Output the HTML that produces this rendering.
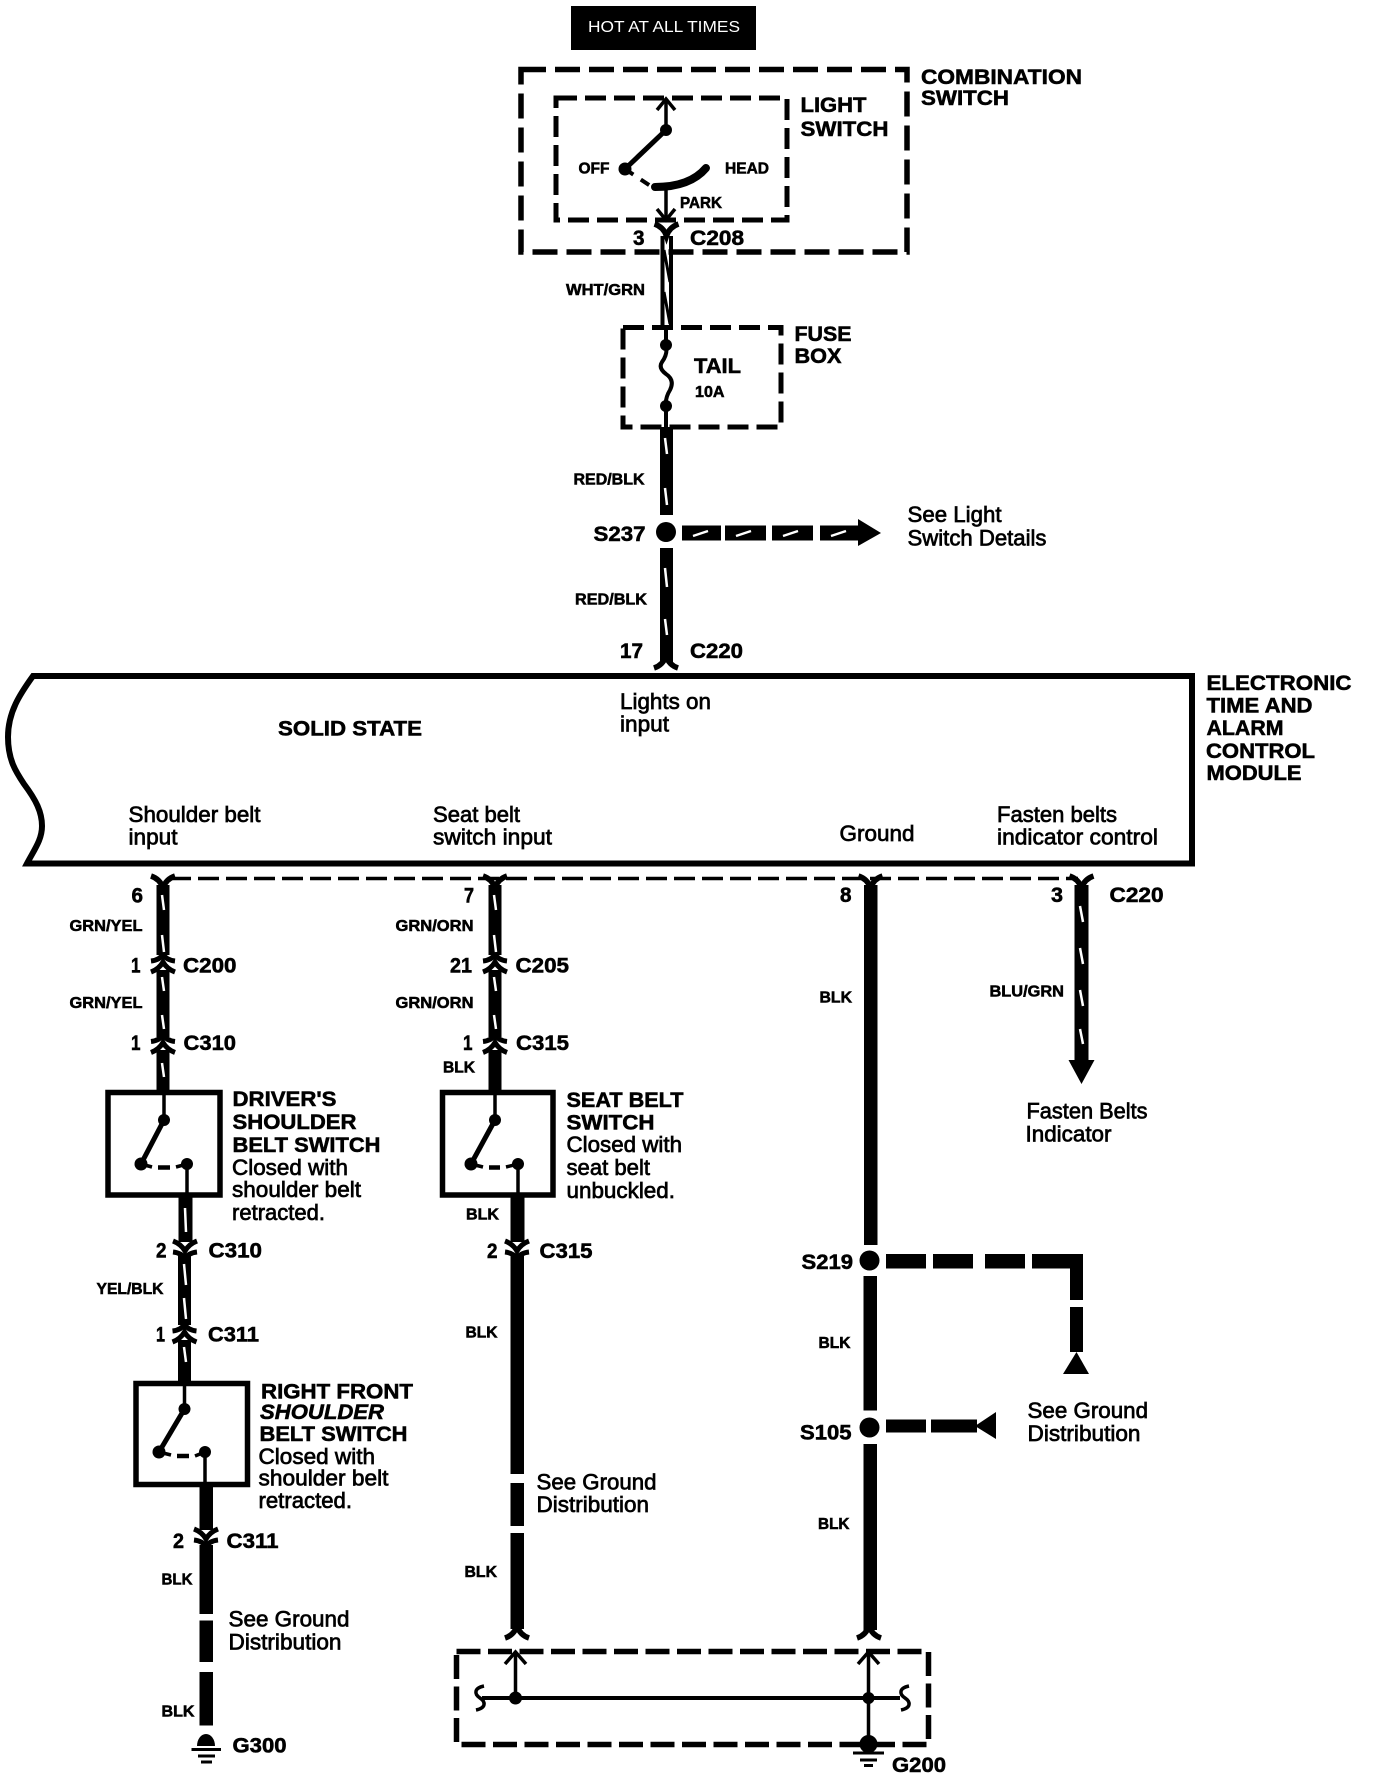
<!DOCTYPE html>
<html><head><meta charset="utf-8"><style>
html,body{margin:0;padding:0;background:#fff}
svg{display:block}
text{font-family:"Liberation Sans",sans-serif;fill:#000}
.b{font-weight:700;stroke:#000;stroke-width:.55}
.r{font-weight:400;stroke:#000;stroke-width:.7}
.l{font-size:21px}.m{font-size:20px}.s{font-size:16px}.t{font-size:22px}
</style></head><body>
<svg width="1376" height="1780" viewBox="0 0 1376 1780" xmlns="http://www.w3.org/2000/svg">
<defs>
<g id="up" fill="none" stroke="#000" stroke-width="5"><path d="M-12 -2Q-3 -3 0 -9Q3 -3 12 -2"/><path d="M-12 9Q-4 6 0 -1Q4 6 12 9"/></g>
<g id="dn" fill="none" stroke="#000" stroke-width="5"><path d="M-12 2Q-3 3 0 9Q3 3 12 2"/><path d="M-12 -9Q-4 -6 0 1Q4 -6 12 -9"/></g>
<path id="y" fill="none" stroke="#000" stroke-width="5.5" d="M-12 -5Q-3 -2 0 7Q3 -2 12 -5"/>
<path id="fl" fill="none" stroke="#000" stroke-width="5.5" d="M-12 5Q-3 2 0 -7Q3 2 12 5"/>
</defs>
<rect width="1376" height="1780" fill="#fff"/>

<!-- HOT -->
<rect x="571" y="6" width="185" height="44" fill="#000"/>
<text x="588" y="32" font-size="16" textLength="152" lengthAdjust="spacingAndGlyphs" style="fill:#fff">HOT AT ALL TIMES</text>

<!-- Combination / light switch -->
<rect x="521" y="69.5" width="386" height="182.5" fill="none" stroke="#000" stroke-width="5.5" stroke-dasharray="25 9"/>
<rect x="556" y="98" width="231" height="122" fill="none" stroke="#000" stroke-width="5" stroke-dasharray="21 8"/>
<g fill="none" stroke="#000">
<path d="M666 130V99" stroke-width="3.5"/>
<path d="M657 110L666 99L675 110" stroke-width="3.5"/>
<path d="M666 130L625 169" stroke-width="5"/>
<path d="M625 169L655 189" stroke-width="4" stroke-dasharray="10 9"/>
<path d="M655 187Q690 187 706 168" stroke-width="8" stroke-linecap="round"/>
<path d="M666 190V220" stroke-width="3.5"/>
<path d="M657 209L666 220L675 209" stroke-width="3.5"/>
</g>
<circle cx="666" cy="130" r="6"/><circle cx="625" cy="169" r="6.5"/>
<use href="#y" x="666.5" y="229"/>
<!-- WHT/GRN -->
<path d="M662.5 236V327M671 236V327" stroke="#000" stroke-width="4" fill="none"/>
<path d="M664 250L670 282M664 292L670 324" stroke="#000" stroke-width="3" fill="none"/>

<!-- Fuse box -->
<rect x="623" y="327.5" width="158" height="99.5" fill="none" stroke="#000" stroke-width="5" stroke-dasharray="21 8"/>
<g fill="none" stroke="#000" stroke-width="4">
<path d="M666 327V345M666 406V427"/>
<path d="M666 345Q668 354 662 362Q658 368 666 374Q675 380 670 390Q665 398 666 406"/>
</g>
<circle cx="666" cy="345" r="6"/><circle cx="666" cy="406" r="6"/>

<!-- RED/BLK -->
<rect x="660" y="427" width="13" height="88"/>
<circle cx="666" cy="532" r="10"/>
<rect x="660" y="548" width="13" height="114"/>
<use href="#fl" x="666" y="663"/>
<path d="M665 438L667 454M665 488L667 505M665 568L667 587M665 619L667 635" stroke="#fff" stroke-width="2.5" fill="none"/>
<!-- S237 arrow -->
<rect x="682" y="525.5" width="39" height="15"/><rect x="725" y="525.5" width="41" height="15"/><rect x="772" y="525.5" width="41" height="15"/><rect x="820" y="525.5" width="40" height="15"/>
<path d="M858 519L881 533L858 546Z"/>
<path d="M693 536L708 531M736 536L751 531M783 536L798 531M831 536L846 531" stroke="#fff" stroke-width="2.5" fill="none"/>

<!-- Module -->
<path d="M1192 676H33C20 694 8 712 8 737C8 760 16 772 24 784C36 800 42 812 42 826C42 840 34 850 27 863.5H1192Z" fill="none" stroke="#000" stroke-width="6"/>

<!-- dashed connector line -->
<path d="M170 878.5H1078" stroke="#000" stroke-width="3.5" stroke-dasharray="21 7" fill="none"/>

<!-- Column 1 -->
<use href="#y" x="163" y="881"/>
<rect x="156.5" y="885" width="13" height="70"/><rect x="156.5" y="970" width="13" height="67"/><rect x="156.5" y="1050" width="13" height="42"/>
<use href="#up" x="163" y="963"/><use href="#up" x="163" y="1043.5"/>
<path d="M162 895L164 910M162 935L164 952M162 977L164 991M162 1015L164 1029M162 1063L164 1077" stroke="#fff" stroke-width="2.5" fill="none"/>
<rect x="108" y="1092.5" width="112" height="102.5" fill="none" stroke="#000" stroke-width="5.5"/>
<g fill="none" stroke="#000">
<path d="M164 1094V1120" stroke-width="3.5"/><path d="M164 1120L141 1164" stroke-width="5"/>
<path d="M141 1164L152 1167" stroke-width="3.5"/><path d="M158 1167.5H170" stroke-width="4.5"/><path d="M176 1167L187 1164V1195" stroke-width="3.5"/>
</g>
<circle cx="164" cy="1120" r="6"/><circle cx="141" cy="1164" r="6.5"/><circle cx="187" cy="1164" r="6"/>
<rect x="178.5" y="1195" width="14" height="47"/>
<path d="M185 1208L186 1232" stroke="#fff" stroke-width="2.5" fill="none"/>
<use href="#dn" x="185" y="1250"/>
<rect x="178" y="1255" width="13" height="70"/>
<path d="M184 1264L186 1285M184 1298L186 1319" stroke="#fff" stroke-width="2.5" fill="none"/>
<use href="#up" x="184.5" y="1333"/>
<rect x="178" y="1340" width="13" height="43"/>
<path d="M184 1347L186 1362" stroke="#fff" stroke-width="2.5" fill="none"/>
<rect x="136" y="1383.5" width="111.5" height="101" fill="none" stroke="#000" stroke-width="5.5"/>
<g fill="none" stroke="#000">
<path d="M184.5 1385V1409" stroke-width="3.5"/><path d="M184.5 1409L159 1452" stroke-width="5"/>
<path d="M159 1452L171 1455" stroke-width="3.5"/><path d="M177 1456H189" stroke-width="4.5"/><path d="M195 1456L205 1452V1484" stroke-width="3.5"/>
</g>
<circle cx="184.5" cy="1409" r="6"/><circle cx="159" cy="1452" r="6.5"/><circle cx="205" cy="1452" r="6"/>
<rect x="199.5" y="1484" width="13.5" height="46"/>
<use href="#dn" x="206" y="1538"/>
<rect x="199.5" y="1545" width="13.5" height="69"/><rect x="199.5" y="1620.5" width="13.5" height="41.5"/><rect x="199.5" y="1672" width="13.5" height="53.5"/>
<path d="M197 1746A9 12 0 0 1 215 1746Z"/>
<path d="M191.5 1749.5H221M198 1756H215M201 1762H212" stroke="#000" stroke-width="3" fill="none"/>

<!-- Column 2 -->
<use href="#y" x="495" y="881"/>
<rect x="488.5" y="885" width="13" height="70"/><rect x="488.5" y="970" width="13" height="67"/><rect x="488.5" y="1050" width="13" height="42"/>
<use href="#up" x="495" y="963"/><use href="#up" x="495" y="1043.5"/>
<path d="M494 895L496 910M494 935L496 952M494 977L496 991M494 1015L496 1029" stroke="#fff" stroke-width="2.5" fill="none"/>
<rect x="442.5" y="1092.5" width="110.5" height="102.5" fill="none" stroke="#000" stroke-width="5.5"/>
<g fill="none" stroke="#000">
<path d="M495 1094V1120" stroke-width="3.5"/><path d="M495 1120L471 1164" stroke-width="5"/>
<path d="M471 1164L483 1167" stroke-width="3.5"/><path d="M489 1167.5H500" stroke-width="4.5"/><path d="M506 1167L518 1164V1195" stroke-width="3.5"/>
</g>
<circle cx="495" cy="1120" r="6"/><circle cx="471" cy="1164" r="6.5"/><circle cx="518" cy="1164" r="6"/>
<rect x="510.5" y="1195" width="14" height="47"/>
<use href="#dn" x="517" y="1250"/>
<rect x="510.5" y="1255" width="13.5" height="219"/><rect x="510.5" y="1483" width="13.5" height="43"/><rect x="510.5" y="1533" width="13.5" height="96"/>
<use href="#fl" x="517" y="1633"/>

<!-- Column 3 -->
<use href="#y" x="870.5" y="881"/>
<rect x="864" y="885" width="13.5" height="360"/>
<circle cx="869.5" cy="1260.5" r="10"/>
<rect x="863.5" y="1276" width="13.5" height="134.5"/>
<circle cx="869.5" cy="1427.5" r="10"/>
<rect x="863.5" y="1444" width="13.5" height="186"/>
<use href="#fl" x="869" y="1633"/>
<!-- S219 -->
<rect x="886" y="1254" width="40" height="14.5"/><rect x="933" y="1254" width="40" height="14.5"/><rect x="985" y="1254" width="40" height="14.5"/>
<path d="M1032 1254H1083V1300H1070V1268.5H1032Z"/>
<rect x="1070" y="1307" width="13" height="45"/>
<path d="M1076.5 1352L1089 1374H1063Z"/>
<!-- S105 -->
<rect x="886" y="1419.5" width="40" height="13"/><rect x="931" y="1419.5" width="46" height="13"/>
<path d="M975 1426L996 1412V1439Z"/>

<!-- Column 4 -->
<use href="#y" x="1081.5" y="881"/>
<rect x="1074.5" y="885" width="14" height="176"/>
<path d="M1068.5 1060H1094.5L1081.5 1084Z"/>
<path d="M1080 906L1083 922M1080 948L1083 964M1080 990L1083 1006M1080 1029L1083 1044" stroke="#fff" stroke-width="2.5" fill="none"/>

<!-- G200 box -->
<rect x="456.5" y="1651.5" width="472" height="93" fill="none" stroke="#000" stroke-width="5.5" stroke-dasharray="24 7.5"/>
<g fill="none" stroke="#000">
<path d="M515.5 1652V1698M868.5 1652V1745" stroke-width="3.5"/>
<path d="M505 1664L515.5 1652L526 1664M858 1664L868.5 1652L879 1664" stroke-width="3.5"/>
<path d="M482 1698H900" stroke-width="4"/>
<path d="M484 1686C474 1688 474 1694 480 1698C486 1702 486 1708 476 1710" stroke-width="3.5"/>
<path d="M909 1686C899 1688 899 1694 905 1698C911 1702 911 1708 901 1710" stroke-width="3.5"/>
<path d="M853 1753H884M860 1760H877M864 1765.5H873" stroke-width="3"/>
</g>
<circle cx="515.5" cy="1698" r="6.5"/><circle cx="868.5" cy="1698" r="6"/><circle cx="868.5" cy="1744" r="9"/>

<!-- Text -->
<text class="b l" x="921" y="84" textLength="161" lengthAdjust="spacingAndGlyphs">COMBINATION</text>
<text class="b l" x="921" y="105" textLength="88" lengthAdjust="spacingAndGlyphs">SWITCH</text>
<text class="b l" x="800.5" y="112" textLength="66" lengthAdjust="spacingAndGlyphs">LIGHT</text>
<text class="b l" x="800.5" y="136" textLength="88" lengthAdjust="spacingAndGlyphs">SWITCH</text>
<text class="b s" x="578.5" y="173.5" textLength="31" lengthAdjust="spacingAndGlyphs">OFF</text>
<text class="b s" x="725" y="173.5" textLength="44" lengthAdjust="spacingAndGlyphs">HEAD</text>
<text class="b s" x="680" y="208" textLength="42" lengthAdjust="spacingAndGlyphs">PARK</text>
<text class="b l" x="633" y="245" textLength="11.5" lengthAdjust="spacingAndGlyphs">3</text>
<text class="b l" x="690" y="245" textLength="54" lengthAdjust="spacingAndGlyphs">C208</text>
<text class="b s" x="566" y="295" textLength="79" lengthAdjust="spacingAndGlyphs">WHT/GRN</text>
<text class="b l" x="794.5" y="341" textLength="57" lengthAdjust="spacingAndGlyphs">FUSE</text>
<text class="b l" x="794.5" y="363" textLength="47" lengthAdjust="spacingAndGlyphs">BOX</text>
<text class="b l" x="694" y="373" textLength="47" lengthAdjust="spacingAndGlyphs">TAIL</text>
<text class="b s" x="695" y="397" textLength="29.5" lengthAdjust="spacingAndGlyphs">10A</text>
<text class="b s" x="573.5" y="484.5" textLength="71" lengthAdjust="spacingAndGlyphs">RED/BLK</text>
<text class="b l" x="593.5" y="541" textLength="52" lengthAdjust="spacingAndGlyphs">S237</text>
<text class="r t" x="907.5" y="522" textLength="94" lengthAdjust="spacingAndGlyphs">See Light</text>
<text class="r t" x="907.5" y="545.5" textLength="139" lengthAdjust="spacingAndGlyphs">Switch Details</text>
<text class="b s" x="575" y="604.5" textLength="72" lengthAdjust="spacingAndGlyphs">RED/BLK</text>
<text class="b l" x="620" y="658" textLength="23" lengthAdjust="spacingAndGlyphs">17</text>
<text class="b l" x="690" y="658" textLength="53" lengthAdjust="spacingAndGlyphs">C220</text>

<text class="b l" x="278" y="735.5" textLength="144" lengthAdjust="spacingAndGlyphs">SOLID STATE</text>
<text class="r t" x="620" y="709" textLength="91" lengthAdjust="spacingAndGlyphs">Lights on</text>
<text class="r t" x="620" y="731.5" textLength="49" lengthAdjust="spacingAndGlyphs">input</text>
<text class="r t" x="128.5" y="822" textLength="132" lengthAdjust="spacingAndGlyphs">Shoulder belt</text>
<text class="r t" x="128.5" y="844.5" textLength="49" lengthAdjust="spacingAndGlyphs">input</text>
<text class="r t" x="433" y="822" textLength="87" lengthAdjust="spacingAndGlyphs">Seat belt</text>
<text class="r t" x="433" y="844.5" textLength="119" lengthAdjust="spacingAndGlyphs">switch input</text>
<text class="r t" x="839.5" y="841" textLength="75" lengthAdjust="spacingAndGlyphs">Ground</text>
<text class="r t" x="997" y="822" textLength="120" lengthAdjust="spacingAndGlyphs">Fasten belts</text>
<text class="r t" x="997" y="844.5" textLength="161" lengthAdjust="spacingAndGlyphs">indicator control</text>
<text class="b l" x="1206.5" y="690" textLength="145" lengthAdjust="spacingAndGlyphs">ELECTRONIC</text>
<text class="b l" x="1206.5" y="712.5" textLength="106" lengthAdjust="spacingAndGlyphs">TIME AND</text>
<text class="b l" x="1206.5" y="735" textLength="77" lengthAdjust="spacingAndGlyphs">ALARM</text>
<text class="b l" x="1206" y="758" textLength="109" lengthAdjust="spacingAndGlyphs">CONTROL</text>
<text class="b l" x="1206.5" y="780" textLength="95" lengthAdjust="spacingAndGlyphs">MODULE</text>

<text class="b l" x="131.5" y="902.5" textLength="11.5" lengthAdjust="spacingAndGlyphs">6</text>
<text class="b s" x="69.5" y="931" textLength="73" lengthAdjust="spacingAndGlyphs">GRN/YEL</text>
<text class="b l" x="131" y="972.5" textLength="9.5" lengthAdjust="spacingAndGlyphs">1</text>
<text class="b l" x="183" y="972.5" textLength="53.5" lengthAdjust="spacingAndGlyphs">C200</text>
<text class="b s" x="69.5" y="1008" textLength="73" lengthAdjust="spacingAndGlyphs">GRN/YEL</text>
<text class="b l" x="131" y="1050" textLength="9.5" lengthAdjust="spacingAndGlyphs">1</text>
<text class="b l" x="183.5" y="1050" textLength="52.5" lengthAdjust="spacingAndGlyphs">C310</text>
<text class="b l" x="464" y="902.5" textLength="10" lengthAdjust="spacingAndGlyphs">7</text>
<text class="b s" x="395.5" y="931" textLength="78" lengthAdjust="spacingAndGlyphs">GRN/ORN</text>
<text class="b l" x="450" y="972.5" textLength="22" lengthAdjust="spacingAndGlyphs">21</text>
<text class="b l" x="515.5" y="972.5" textLength="53.5" lengthAdjust="spacingAndGlyphs">C205</text>
<text class="b s" x="395.5" y="1008" textLength="78" lengthAdjust="spacingAndGlyphs">GRN/ORN</text>
<text class="b l" x="463" y="1050" textLength="9.5" lengthAdjust="spacingAndGlyphs">1</text>
<text class="b l" x="516" y="1050" textLength="53" lengthAdjust="spacingAndGlyphs">C315</text>
<text class="b s" x="443" y="1072.5" textLength="32" lengthAdjust="spacingAndGlyphs">BLK</text>
<text class="b l" x="840" y="902" textLength="11.5" lengthAdjust="spacingAndGlyphs">8</text>
<text class="b s" x="819.5" y="1002.5" textLength="32.5" lengthAdjust="spacingAndGlyphs">BLK</text>
<text class="b l" x="1051" y="902" textLength="12" lengthAdjust="spacingAndGlyphs">3</text>
<text class="b l" x="1109.5" y="902" textLength="54" lengthAdjust="spacingAndGlyphs">C220</text>
<text class="b s" x="989.5" y="996.5" textLength="74.5" lengthAdjust="spacingAndGlyphs">BLU/GRN</text>
<text class="r t" x="1026.5" y="1118.5" textLength="121" lengthAdjust="spacingAndGlyphs">Fasten Belts</text>
<text class="r t" x="1025.5" y="1141.5" textLength="86" lengthAdjust="spacingAndGlyphs">Indicator</text>

<text class="b l" x="232.5" y="1106" textLength="104" lengthAdjust="spacingAndGlyphs">DRIVER'S</text>
<text class="b l" x="232.5" y="1129" textLength="124" lengthAdjust="spacingAndGlyphs">SHOULDER</text>
<text class="b l" x="232.5" y="1152" textLength="148" lengthAdjust="spacingAndGlyphs">BELT SWITCH</text>
<text class="r t" x="232" y="1175" textLength="116" lengthAdjust="spacingAndGlyphs">Closed with</text>
<text class="r t" x="232" y="1197" textLength="129" lengthAdjust="spacingAndGlyphs">shoulder belt</text>
<text class="r t" x="232" y="1220" textLength="93" lengthAdjust="spacingAndGlyphs">retracted.</text>
<text class="b l" x="566.5" y="1107" textLength="117" lengthAdjust="spacingAndGlyphs">SEAT BELT</text>
<text class="b l" x="566.5" y="1129.5" textLength="88" lengthAdjust="spacingAndGlyphs">SWITCH</text>
<text class="r t" x="566.5" y="1152" textLength="115.5" lengthAdjust="spacingAndGlyphs">Closed with</text>
<text class="r t" x="566.5" y="1175" textLength="83.5" lengthAdjust="spacingAndGlyphs">seat belt</text>
<text class="r t" x="566.5" y="1198" textLength="108.5" lengthAdjust="spacingAndGlyphs">unbuckled.</text>
<text class="b s" x="466" y="1219.5" textLength="33" lengthAdjust="spacingAndGlyphs">BLK</text>

<text class="b l" x="156" y="1257.5" textLength="10.5" lengthAdjust="spacingAndGlyphs">2</text>
<text class="b l" x="208.5" y="1257.5" textLength="53.5" lengthAdjust="spacingAndGlyphs">C310</text>
<text class="b l" x="487" y="1258" textLength="10.5" lengthAdjust="spacingAndGlyphs">2</text>
<text class="b l" x="539.5" y="1258" textLength="53" lengthAdjust="spacingAndGlyphs">C315</text>
<text class="b s" x="96.5" y="1294" textLength="67" lengthAdjust="spacingAndGlyphs">YEL/BLK</text>
<text class="b l" x="156" y="1341.5" textLength="9" lengthAdjust="spacingAndGlyphs">1</text>
<text class="b l" x="208" y="1341.5" textLength="51" lengthAdjust="spacingAndGlyphs">C311</text>
<text class="b s" x="465.5" y="1337.5" textLength="32" lengthAdjust="spacingAndGlyphs">BLK</text>
<text class="b l" x="801.5" y="1269" textLength="51.5" lengthAdjust="spacingAndGlyphs">S219</text>
<text class="b s" x="818.5" y="1348" textLength="32" lengthAdjust="spacingAndGlyphs">BLK</text>
<text class="b l" x="800" y="1439.5" textLength="51.5" lengthAdjust="spacingAndGlyphs">S105</text>
<text class="r t" x="1027.5" y="1418" textLength="120.5" lengthAdjust="spacingAndGlyphs">See Ground</text>
<text class="r t" x="1027.5" y="1441" textLength="113" lengthAdjust="spacingAndGlyphs">Distribution</text>
<text class="b s" x="818" y="1529" textLength="31.5" lengthAdjust="spacingAndGlyphs">BLK</text>

<text class="b l" x="261" y="1398.5" textLength="152" lengthAdjust="spacingAndGlyphs">RIGHT FRONT</text>
<text class="b l" x="260" y="1419" textLength="124" lengthAdjust="spacingAndGlyphs" font-style="italic">SHOULDER</text>
<text class="b l" x="259.5" y="1441" textLength="148" lengthAdjust="spacingAndGlyphs">BELT SWITCH</text>
<text class="r t" x="258.5" y="1464" textLength="116.5" lengthAdjust="spacingAndGlyphs">Closed with</text>
<text class="r t" x="258.5" y="1485.5" textLength="130" lengthAdjust="spacingAndGlyphs">shoulder belt</text>
<text class="r t" x="258.5" y="1508" textLength="93.5" lengthAdjust="spacingAndGlyphs">retracted.</text>
<text class="b l" x="173" y="1548" textLength="11" lengthAdjust="spacingAndGlyphs">2</text>
<text class="b l" x="226.5" y="1548" textLength="52" lengthAdjust="spacingAndGlyphs">C311</text>
<text class="b s" x="161.5" y="1584.5" textLength="31" lengthAdjust="spacingAndGlyphs">BLK</text>
<text class="r t" x="228.5" y="1626.5" textLength="121" lengthAdjust="spacingAndGlyphs">See Ground</text>
<text class="r t" x="228.5" y="1649.5" textLength="113" lengthAdjust="spacingAndGlyphs">Distribution</text>
<text class="b s" x="161.5" y="1716.5" textLength="33" lengthAdjust="spacingAndGlyphs">BLK</text>
<text class="b l" x="232.5" y="1752.5" textLength="54" lengthAdjust="spacingAndGlyphs">G300</text>
<text class="r t" x="536.5" y="1489.5" textLength="120" lengthAdjust="spacingAndGlyphs">See Ground</text>
<text class="r t" x="536.5" y="1512" textLength="112.5" lengthAdjust="spacingAndGlyphs">Distribution</text>
<text class="b s" x="464.5" y="1577" textLength="32.5" lengthAdjust="spacingAndGlyphs">BLK</text>
<text class="b l" x="892" y="1772" textLength="54" lengthAdjust="spacingAndGlyphs">G200</text>
</svg>
</body></html>
